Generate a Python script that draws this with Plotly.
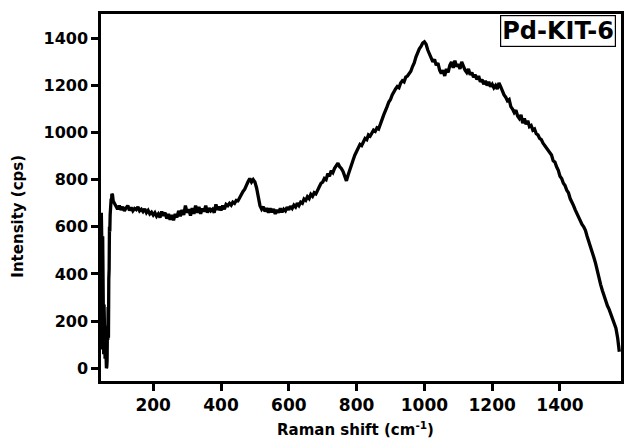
import plotly.graph_objects as go

# Raman shift (cm^-1) values
spike_shift = [47, 48, 49, 50, 51, 52, 53, 54, 55, 56, 57, 58, 59, 60, 61, 62, 63, 64, 65, 66, 67, 68,
               69, 70, 71, 72, 73, 74, 75, 76, 77, 78, 80, 82]
spike_intensity = [660, 570, 120, 80, 560, 150, 300, 60, 270, 90, 200, 40, 150, 10, 90, 0, 5, 30, 180, 120,
                   260, 130, 380, 420, 600, 580, 650, 700, 690, 720, 700, 740, 735, 710]

main_shift = list(range(85, 1580, 5))
main_intensity = [
    # 85-195
    700, 690, 675, 690, 672, 685, 668, 680, 690, 670, 682, 668, 678, 673, 685, 668, 675, 665, 676, 660, 670, 655, 662,
    # 200-295
    650, 660, 645, 655, 640, 665, 648, 660, 635, 655, 630, 650, 628, 655, 640, 668, 645, 672, 650, 690,
    # 300-395
    660, 675, 648, 680, 655, 690, 660, 685, 655, 678, 665, 690, 660, 680, 668, 675, 660, 695, 672, 685,
    # 400-495
    670, 690, 675, 695, 690, 700, 692, 705, 700, 712, 710, 725, 735, 750, 760, 780, 792, 805, 790, 800,
    # 500-595
    790, 765, 720, 690, 675, 685, 665, 680, 660, 678, 662, 676, 655, 672, 660, 678, 662, 675, 668, 684,
    # 600-695
    672, 688, 678, 692, 684, 700, 690, 705, 700, 718, 712, 728, 720, 738, 730, 745, 740, 760, 770, 785,
    # 700-795
    790, 805, 800, 825, 815, 838, 830, 848, 860, 870, 855, 848, 835, 815, 795, 820, 845, 860, 885, 905,
    # 800-895
    920, 935, 950, 945, 965, 975, 970, 990, 985, 1000, 1010, 1005, 1020, 1015, 1040, 1055, 1075, 1090, 1110, 1130,
    # 900-995
    1140, 1160, 1175, 1185, 1195, 1190, 1210, 1220, 1215, 1235, 1240, 1250, 1260, 1280, 1295, 1320, 1340, 1355, 1365, 1380,
    # 1000-1095
    1385, 1375, 1350, 1330, 1315, 1300, 1310, 1285, 1295, 1265, 1250, 1265, 1240, 1270, 1255, 1285, 1300, 1275, 1305, 1280,
    # 1100-1195
    1290, 1270, 1300, 1280, 1265, 1255, 1270, 1245, 1255, 1235, 1245, 1225, 1240, 1215, 1225, 1205, 1220, 1200, 1215, 1195,
    # 1200-1295
    1205, 1190, 1200, 1185, 1210, 1195, 1175, 1160, 1150, 1135, 1140, 1110, 1100, 1085, 1095, 1070, 1060, 1075, 1040, 1060,
    # 1300-1395
    1035, 1050, 1025, 1030, 1010, 1015, 995, 990, 975, 970, 955, 945, 935, 920, 910, 905, 880, 875, 855, 840,
    # 1400-1495
    815, 805, 785, 775, 755, 745, 720, 700, 690, 672, 655, 640, 625, 610, 600, 585, 560, 540, 515, 495,
    # 1500-1575
    470, 445, 410, 385, 355, 330, 305, 285, 265, 250, 232, 215, 195, 170, 130, 70,
]

shift = spike_shift + main_shift
intensity = spike_intensity + main_intensity

x_ticks = [200, 400, 600, 800, 1000, 1200, 1400]
y_ticks = [0, 200, 400, 600, 800, 1000, 1200, 1400]

FONT = "DejaVu Sans"

fig = go.Figure()
fig.add_trace(go.Scatter(x=shift, y=intensity, mode="lines",
                         line=dict(color="black", width=3.3), showlegend=False))

axis_common = dict(showgrid=False, zeroline=False, showline=True, linecolor="black", linewidth=2.5,
                   ticks="outside", ticklen=7, tickwidth=2.5, tickcolor="black", mirror=True,
                   tickfont=dict(family=FONT, size=16, color="black", weight="bold"))

fig.update_xaxes(range=[46, 1580], tickvals=x_ticks, **axis_common)
fig.update_xaxes(tickfont=dict(size=17))
fig.update_yaxes(range=[-54, 1503], tickvals=y_ticks, **axis_common)

fig.update_layout(
    width=625, height=442,
    margin=dict(l=101, r=1, t=14, b=61),
    plot_bgcolor="white", paper_bgcolor="white",
    annotations=[
        dict(text="Intensity (cps)", xref="paper", yref="paper", x=-0.16, y=0.45,
             xanchor="center", yanchor="middle", textangle=-90, showarrow=False,
             font=dict(family=FONT, size=15, color="black", weight="bold")),
        dict(text="Raman shift (cm<sup>-1</sup>)", xref="paper", yref="paper", x=0.49, y=-0.13,
             xanchor="center", yanchor="middle", showarrow=False,
             font=dict(family=FONT, size=15, color="black", weight="bold")),
        dict(text="Pd-KIT-6", xref="paper", yref="paper", x=0.99, y=0.997,
             xanchor="right", yanchor="top", showarrow=False, bordercolor="black", borderwidth=1.2,
             borderpad=1, bgcolor="white",
             font=dict(family=FONT, size=24, color="black", weight="bold")),
    ],
)

fig.write_html("out.html")
